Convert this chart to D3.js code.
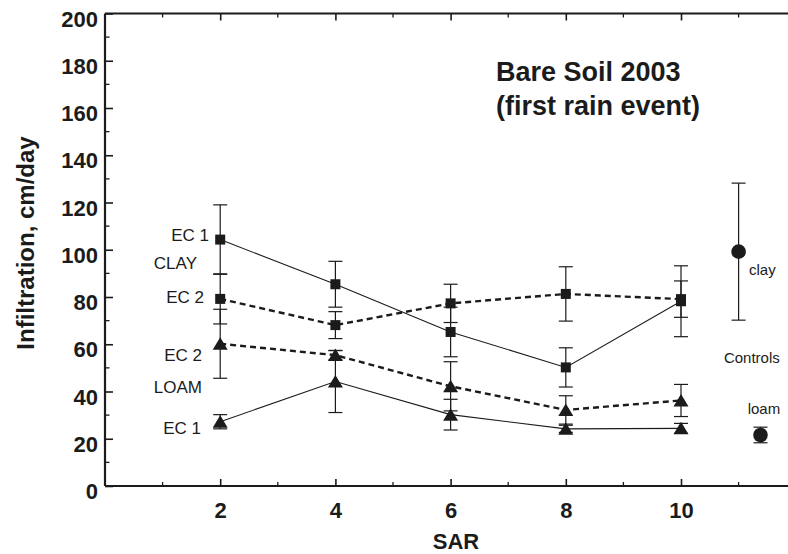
<!DOCTYPE html>
<html>
<head>
<meta charset="utf-8">
<script src="https://cdn.jsdelivr.net/npm/d3@7"></script>
<style>
  body { margin: 0; background: #fff; }
  svg { display: block; font-family: "Liberation Sans", Arial, sans-serif; }
</style>
</head>
<body>
<svg id="chart" width="788" height="554"></svg>
<script>
// SAR values on the x axis
const sar = [2, 4, 6, 8, 10];

// Infiltration (cm/day) and +/- error
const clayEC1 = [104.3, 85.4, 65.2, 50.2, 78.2];
const clayEC1Err = [14.7, 9.7, 10.5, 8.3, 15];
const clayEC2 = [79.2, 68.1, 77.3, 81.3, 79.1];
const clayEC2Err = [10.6, 5.7, 8.1, 11.5, 7.7];
const loamEC2 = [60.2, 55.4, 42.2, 32.2, 36.2];
const loamEC2Err = [14.6, 2, 10.4, 6, 6.8];
const loamEC1 = [27.2, 44.2, 30.2, 24.2, 24.4];
const loamEC1Err = [3, 13.1, 6.5, 1.5, 2.1];

// controls
const controlNames = ["clay", "loam"];
const controlSar = [11, 11.38];
const controlValues = [99.2, 21.6];
const controlErr = [29, 3.3];

const yTicks = [0, 20, 40, 60, 80, 100, 120, 140, 160, 180, 200];
const xTicks = [2, 4, 6, 8, 10];

const ink = "#1b1b1b";
const svg = d3.select("#chart");

const x = d3.scaleLinear().domain([0, 12]).range([105, 105 + 12 * 57.6]);
const y = d3.scaleLinear().domain([0, 200]).range([486, 13.5]);

const series = [
	{ values: clayEC1, err: clayEC1Err, dashed: false, shape: "square" },
	{ values: clayEC2, err: clayEC2Err, dashed: true, shape: "square" },
	{ values: loamEC2, err: loamEC2Err, dashed: true, shape: "triangle" },
	{ values: loamEC1, err: loamEC1Err, dashed: false, shape: "triangle" },
];

// axes
const minorY = d3.range(10, 200, 20);
const minorX = d3.range(1, 12, 2);

svg.append("g")
	.attr("transform", `translate(${x(0)},0)`)
	.call(d3.axisLeft(y).tickValues(yTicks).tickSize(-8).tickPadding(7))
	.call(g => {
		g.select(".domain").attr("stroke", ink).attr("stroke-width", 2.2).attr("d", `M0,${y(200)}V${y(0)}`);
		g.selectAll(".tick line").attr("stroke", ink).attr("stroke-width", 1.6);
		g.selectAll(".tick text")
			.attr("dy", "0.57em")
			.attr("fill", ink)
			.style("font-size", "22px")
			.style("font-weight", "bold")
			.style("font-family", "Liberation Sans, Arial, sans-serif");
	});

svg.append("g").selectAll("line")
	.data(minorY)
	.join("line")
	.attr("x1", x(0)).attr("x2", x(0) + 4.5)
	.attr("y1", d => y(d)).attr("y2", d => y(d))
	.attr("stroke", ink).attr("stroke-width", 1.3);

svg.append("g")
	.attr("transform", `translate(0,${y(0)})`)
	.call(d3.axisBottom(x).tickValues(xTicks).tickSize(-7).tickPadding(16))
	.call(g => {
		g.select(".domain").attr("stroke", ink).attr("stroke-width", 2.2).attr("d", `M${x(0)},0H788`);
		g.selectAll(".tick line").attr("stroke", ink).attr("stroke-width", 1.6);
		g.selectAll(".tick text")
			.attr("fill", ink)
			.style("font-size", "22px")
			.style("font-weight", "bold")
			.style("font-family", "Liberation Sans, Arial, sans-serif");
	});

svg.append("g")
	.attr("transform", `translate(0,${y(200)})`)
	.call(d3.axisTop(x).tickValues(xTicks).tickSize(-7).tickFormat(""))
	.call(g => {
		g.select(".domain").attr("stroke", ink).attr("stroke-width", 2.2).attr("d", `M${x(0)},0H788`);
		g.selectAll(".tick line").attr("stroke", ink).attr("stroke-width", 1.6);
	});

[y(0), y(200)].forEach((base, i) => {
	const dir = i === 0 ? -1 : 1;
	svg.append("g").selectAll("line")
		.data(minorX)
		.join("line")
		.attr("x1", d => x(d)).attr("x2", d => x(d))
		.attr("y1", base).attr("y2", base + dir * 4)
		.attr("stroke", ink).attr("stroke-width", 1.3);
});

// axis titles
svg.append("text")
	.attr("transform", `translate(34,243) rotate(-90)`)
	.attr("text-anchor", "middle")
	.attr("fill", ink)
	.style("font-size", "24px")
	.style("font-weight", "bold")
	.text("Infiltration, cm/day");

svg.append("text")
	.attr("x", 456).attr("y", 549)
	.attr("text-anchor", "middle")
	.attr("fill", ink)
	.style("font-size", "22px")
	.style("font-weight", "bold")
	.text("SAR");

// title
const title = svg.append("text")
	.attr("fill", ink)
	.style("font-size", "27px")
	.style("font-weight", "bold");
title.append("tspan").attr("x", 496).attr("y", 81).text("Bare Soil 2003");
title.append("tspan").attr("x", 496).attr("y", 115).text("(first rain event)");

// lines
const line = d3.line()
	.x((d, i) => x(sar[i]))
	.y(d => y(d));

series.forEach(s => {
	svg.append("path")
		.datum(s.values)
		.attr("d", line)
		.attr("fill", "none")
		.attr("stroke", ink)
		.attr("stroke-width", s.dashed ? 2.4 : 1.1)
		.attr("stroke-dasharray", s.dashed ? "6,4" : null);
});

// error bars
function errorBar(g, cx, v, e) {
	const cap = 7;
	g.append("line")
		.attr("x1", cx).attr("x2", cx)
		.attr("y1", y(v - e)).attr("y2", y(v + e))
		.attr("stroke", ink).attr("stroke-width", 1.2);
	[v - e, v + e].forEach(t => {
		g.append("line")
			.attr("x1", cx - cap).attr("x2", cx + cap)
			.attr("y1", y(t)).attr("y2", y(t))
			.attr("stroke", ink).attr("stroke-width", 1.2);
	});
}

const bars = svg.append("g");
series.forEach(s => {
	s.values.forEach((v, i) => errorBar(bars, x(sar[i]), v, s.err[i]));
});
controlValues.forEach((v, i) => errorBar(bars, x(controlSar[i]), v, controlErr[i]));

// markers
const marks = svg.append("g").attr("fill", ink);
series.forEach(s => {
	s.values.forEach((v, i) => {
		const cx = x(sar[i]), cy = y(v);
		if (s.shape === "square") {
			marks.append("rect")
				.attr("x", cx - 5).attr("y", cy - 5)
				.attr("width", 10).attr("height", 10);
		} else {
			marks.append("path")
				.attr("d", `M${cx},${cy - 6.5}L${cx + 7.5},${cy + 6}L${cx - 7.5},${cy + 6}Z`);
		}
	});
});

marks.selectAll("circle")
	.data(controlValues)
	.join("circle")
	.attr("cx", (d, i) => x(controlSar[i]))
	.attr("cy", d => y(d))
	.attr("r", 7.3);

// series labels on the left
const leftLabels = [
	{ text: "EC 1", v: 106.4, end: 209 },
	{ text: "CLAY", v: 94.4, end: 197 },
	{ text: "EC 2", v: 80, end: 204 },
	{ text: "EC 2", v: 55.4, end: 202 },
	{ text: "LOAM", v: 42, end: 202 },
	{ text: "EC 1", v: 24.5, end: 201 },
];

svg.append("g").selectAll("text")
	.data(leftLabels)
	.join("text")
	.attr("x", d => d.end)
	.attr("y", d => y(d.v))
	.attr("dy", "0.36em")
	.attr("text-anchor", "end")
	.attr("fill", ink)
	.style("font-size", "17px")
	.text(d => d.text);

// control labels
const rightLabels = [
	{ text: controlNames[0], sx: 11.18, v: 91.4, anchor: "start" },
	{ text: "Controls", sx: 11.23, v: 54.2, anchor: "middle" },
	{ text: controlNames[1], sx: 11.44, v: 32.6, anchor: "middle" },
];

svg.append("g").selectAll("text")
	.data(rightLabels)
	.join("text")
	.attr("x", d => x(d.sx))
	.attr("y", d => y(d.v))
	.attr("dy", "0.36em")
	.attr("text-anchor", d => d.anchor)
	.attr("fill", ink)
	.style("font-size", "15px")
	.text(d => d.text);
</script>
</body>
</html>
